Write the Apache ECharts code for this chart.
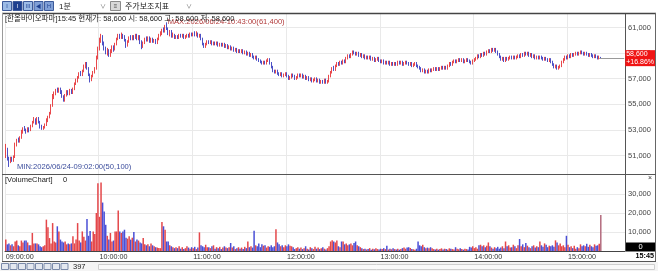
<!DOCTYPE html>
<html><head><meta charset="utf-8">
<script src="https://cdn.jsdelivr.net/npm/echarts@6/dist/echarts.min.js"></script>
<style>html,body{margin:0;padding:0;background:#fff}#c{width:658px;height:271px}</style>
</head><body><div id="c"></div>
<script>
// ---- DATA (prices in hundreds of won) ----
const stockName = '한올바이오파마';
const tradeDate = '2026/06/24';
const nowTime = '15:45';
const quote = [58600, 58600, 58600, 58600]; // 현재가, 시, 고, 저 (current bar)
const changeText = '+16.86%';
const currentVolume = 0;
const sessions = [['09:00', '15:20'], ['15:30', '15:45']];
const hourLabels = ['09:00:00', '10:00:00', '11:00:00', '12:00:00', '13:00:00', '14:00:00', '15:00:00'];
const priceTicks = [51000, 53000, 55000, 57000, 59000, 61000];
const volumeTicks = [10000, 20000, 30000];

const openH = [
510,515,507,505,508,506,509,518,522,521, 524,528,531,530,529,531,530,533,536,538,
535,539,536,533,531,532,534,537,540,543, 549,556,559,561,560,562,560,556,553,557,
560,558,561,559,562,566,568,571,574,573, 576,580,582,578,573,569,572,575,578,586,
593,600,603,598,594,590,592,588,591,595, 593,597,601,604,602,604,603,600,596,599,
602,601,603,602,604,601,603,599,595,598, 601,600,602,599,601,599,600,598,601,604,
606,608,607,611,609,605,607,603,604,602, 603,602,604,603,604,602,603,604,603,605,
604,605,604,606,603,604,601,597,595,597, 599,598,599,597,598,597,598,596,597,596,
597,595,596,594,595,593,594,592,593,591, 592,591,592,590,591,589,590,588,589,587,
586,587,585,584,583,582,583,582,584,585, 582,579,576,575,576,574,573,574,572,573,
574,572,570,571,573,572,570,571,573,572, 573,571,572,570,571,569,570,568,569,570,
568,569,567,568,567,569,567,568,572,575, 578,577,580,582,581,583,582,584,583,586,
588,587,589,591,590,589,590,588,589,587, 588,586,587,586,587,585,586,584,585,586,
584,583,584,582,583,582,583,581,582,581, 582,581,583,582,583,581,582,583,582,581,
582,580,581,582,580,579,578,576,577,575, 576,575,577,576,577,578,577,578,577,578,
579,578,579,578,580,582,581,583,584,583, 584,585,584,585,583,584,585,584,583,582,
584,585,586,588,587,589,588,590,589,591, 592,591,593,592,593,591,589,587,585,586,
584,586,585,586,587,586,587,586,587,588, 587,589,588,590,589,590,588,589,587,588,
586,587,586,587,586,585,586,585,584,585, 583,581,579,580,578,579,580,583,585,587,
586,588,587,589,588,589,590,589,590,591, 590,589,590,589,588,589,588,587,588,587,
586,586];
const closeH = [
515,507,505,508,506,509,518,522,521,524, 528,531,530,529,531,530,533,536,538,535,
539,536,533,531,532,534,537,540,543,549, 556,559,561,560,562,560,556,553,557,560,
558,561,559,562,566,568,571,574,573,576, 580,582,578,573,569,572,575,578,586,593,
600,603,598,594,590,592,588,591,595,593, 597,601,604,602,604,603,600,596,599,602,
601,603,602,604,601,603,599,595,598,601, 600,602,599,601,599,600,598,601,604,606,
608,607,611,609,605,607,603,604,602,603, 602,604,603,604,602,603,604,603,605,604,
605,604,606,603,604,601,597,595,597,599, 598,599,597,598,597,598,596,597,596,597,
595,596,594,595,593,594,592,593,591,592, 591,592,590,591,589,590,588,589,587,586,
587,585,584,583,582,583,582,584,585,582, 579,576,575,576,574,573,574,572,573,574,
572,570,571,573,572,570,571,573,572,573, 571,572,570,571,569,570,568,569,570,568,
569,567,568,567,569,567,568,572,575,578, 577,580,582,581,583,582,584,583,586,588,
587,589,591,590,589,590,588,589,587,588, 586,587,586,587,585,586,584,585,586,584,
583,584,582,583,582,583,581,582,581,582, 581,583,582,583,581,582,583,582,581,582,
580,581,582,580,579,578,576,577,575,576, 575,577,576,577,578,577,578,577,578,579,
578,579,578,580,582,581,583,584,583,584, 585,584,585,583,584,585,584,583,582,584,
585,586,588,587,589,588,590,589,591,592, 591,593,592,593,591,589,587,585,586,584,
586,585,586,587,586,587,586,587,588,587, 589,588,590,589,590,588,589,587,588,586,
587,586,587,586,585,586,585,584,585,583, 581,579,580,578,579,580,583,585,587,586,
588,587,589,588,589,590,589,590,591,590, 589,590,589,588,589,588,587,588,587,586,
587,586];
const highH = [
519,516,509,509,509,510,520,523,524,525, 530,532,533,531,532,532,534,537,540,539,
540,540,537,534,533,535,539,541,544,550, 558,560,562,563,563,563,561,557,558,561,
561,562,562,563,567,570,572,575,576,577, 581,583,583,579,574,573,576,579,588,595,
602,605,604,599,595,594,593,593,596,596, 598,602,605,605,606,605,604,601,600,603,
604,604,604,605,605,604,604,600,599,602, 603,603,603,602,602,601,601,602,605,607,
609,610,612,614,610,608,608,606,605,604, 604,605,605,605,605,604,605,605,606,606,
606,607,607,606,605,605,602,598,598,600, 600,600,600,599,599,599,599,598,598,598,
598,597,597,596,596,595,595,594,594,593, 593,593,593,592,592,591,591,590,590,588,
588,588,586,585,584,584,584,585,586,586, 583,580,577,577,577,575,575,575,574,575,
575,573,572,574,574,573,572,574,574,574, 574,573,573,572,572,571,571,570,571,571,
570,570,569,569,570,570,569,573,576,579, 580,581,583,583,584,584,585,585,587,589,
589,590,592,592,591,591,591,590,590,589, 589,588,588,588,588,587,587,586,587,587,
585,585,585,584,584,584,584,583,583,583, 583,584,584,584,584,583,584,584,583,583,
583,582,583,583,581,580,579,578,578,577, 577,578,578,578,579,579,579,579,579,580,
580,580,580,581,583,583,584,585,585,585, 586,586,586,586,585,586,586,585,584,585,
586,587,589,589,590,590,591,591,592,593, 593,594,594,594,594,592,590,588,587,587,
587,587,587,588,588,588,588,588,589,589, 590,590,591,591,591,591,590,590,589,589,
588,588,588,588,587,587,587,586,586,586, 584,582,581,581,580,581,584,586,588,588,
589,589,590,590,590,591,591,591,592,592, 591,591,591,590,590,590,589,589,589,588,
588,587];
const lowH = [
508,506,501,504,505,505,508,517,520,520, 523,527,529,527,528,528,529,532,535,534,
534,535,531,530,530,531,533,536,539,542, 548,554,557,559,559,558,555,552,552,556,
557,557,558,558,561,565,567,570,572,572, 575,578,577,572,567,568,571,574,577,585,
592,598,596,592,589,588,587,587,590,591, 592,596,600,601,601,601,599,594,595,598,
600,600,600,601,600,600,597,593,594,597, 599,599,598,598,598,598,597,597,600,603,
604,606,606,608,604,603,602,602,601,601, 601,601,602,602,601,601,602,602,602,603,
603,603,603,602,602,600,596,594,594,596, 597,597,596,596,596,596,595,595,595,595,
594,594,593,593,592,592,591,591,590,590, 590,590,589,589,588,588,587,587,586,585,
585,584,583,582,581,581,581,581,583,581, 578,575,574,574,573,572,572,571,571,572,
571,569,569,570,571,569,569,570,571,571, 570,570,569,569,568,568,567,567,568,567,
567,566,566,566,566,566,566,567,571,574, 576,576,579,580,580,581,581,582,582,585,
586,586,588,589,588,588,587,587,586,586, 585,585,585,585,584,584,583,583,584,583,
582,582,581,581,581,581,580,580,580,580, 580,580,581,581,580,580,581,581,580,580,
579,579,580,579,578,577,575,575,574,574, 574,574,575,575,576,576,576,576,576,577,
577,577,577,577,579,580,580,582,582,582, 583,583,583,582,582,583,583,582,581,581,
583,584,585,586,586,587,587,588,588,590, 590,590,591,591,590,588,586,584,584,583,
583,584,584,585,585,585,585,585,586,586, 586,587,587,588,588,587,587,586,586,585,
585,585,585,585,584,584,584,583,583,582, 580,578,578,577,577,578,579,582,584,585,
585,586,586,587,587,588,588,588,589,589, 588,588,588,587,587,587,586,586,586,585,
585,586];
const volume = [
6000,3500,4000,3000,3500,2500,5000,5500,3000,2500, 5500,4500,5500,5500,4500,3000,3000,9500,4000,4000,
4000,3500,2500,2000,2500,3000,16500,12500,6800,4000, 14700,5000,4500,13000,10300,6000,5000,4500,5000,3500,
4000,3500,4000,7700,4000,6000,14700,5500,4500,10300, 7500,5500,16800,8000,10500,5000,10300,9000,20000,35700,
18000,36000,25500,20800,13800,8000,6000,9500,5000,5500, 10300,10300,21300,10300,9500,10300,11200,7000,6500,7700,
6000,7000,10000,5000,6000,5500,4500,4000,6800,3500, 3000,3500,2500,4000,3000,2500,2000,1800,1600,1500,
15200,13000,11200,5000,5000,3000,2500,2000,1500,2000, 1500,2500,1200,2000,1000,1500,2500,1800,1200,2000,
1500,2200,1000,1800,9800,3000,2500,2000,3300,2000, 2000,1500,2500,3000,1200,2000,1500,2200,1000,1800,
2500,1800,1500,2000,4200,1800,2500,1000,1500,2000, 1200,1800,1000,2200,1500,5000,2000,2500,1800,10700,
3000,2500,4000,2000,3500,2800,3000,1800,2500,2200, 3000,2000,2500,11500,4500,3500,2500,3000,2000,3000,
2500,3500,2800,2500,2000,1000,1500,2000,1200,1800, 1000,1500,2500,1200,800,2000,1500,1000,2200,1200,
1800,1000,1500,2000,1200,800,1500,2500,5000,5600, 5000,4500,5500,2500,2000,5000,5000,3500,4000,3000,
3500,4000,3000,4200,5000,3000,2500,2000,1500,1000, 1200,800,1000,1500,700,1200,900,1500,1000,800,
1200,1000,1500,1000,2800,800,1200,900,1500,1000, 800,1200,700,1000,1500,1800,1200,1800,2000,1600,
1000,900,700,1200,5000,3000,2500,3300,2000,1500, 1800,1400,2000,1500,1000,800,1200,700,1000,1400,
800,1200,1000,700,1400,1200,1000,800,2000,1200, 900,1400,1000,700,1200,1000,800,2200,1800,2500,
1500,2000,1200,3000,3300,2500,3000,2000,2800,4500, 2500,1800,1200,2000,1500,2200,1200,1800,2500,1500,
5000,2500,3000,1800,2000,3300,2500,1500,3000,6300, 2500,3500,2000,4200,2800,2000,1500,2500,3000,1800,
2500,2000,5000,3000,2200,4000,3300,2000,2800,2500, 3000,2200,5600,4500,3000,4000,2500,3000,2000,8000,
3300,2000,2500,1500,2800,1200,2000,1500,3500,2500, 3000,2500,3800,2200,3300,2500,2000,3500,2800,3000,
3800,19000,0,0,0,0,0,0,0,0,0,0,0,0,0,0,0];

// ---- build ----
const UNIT = 100;
const pad = n => String(n).padStart(2, '0');
const categories = [];
for (const [a, b] of sessions) {
  let [h, m] = a.split(':').map(Number);
  const [h2, m2] = b.split(':').map(Number);
  while (h * 60 + m <= h2 * 60 + m2) {
    categories.push(pad(h) + ':' + pad(m) + ':00');
    m++; if (m === 60) { m = 0; h++; }
  }
}
const fmt = v => v.toLocaleString('en-US');
const candles = categories.map((c, i) => i < closeH.length
  ? [openH[i] * UNIT, closeH[i] * UNIT, lowH[i] * UNIT, highH[i] * UNIT] : '-');
let maxIdx = 0, minIdx = 0;
highH.forEach((v, i) => { if (v > highH[maxIdx]) maxIdx = i; });
lowH.forEach((v, i) => { if (v < lowH[minIdx]) minIdx = i; });
const lastIdx = closeH.length - 1;
const lastPrice = closeH[lastIdx] * UNIT;

const UP = '#e3191e', DOWN = '#1f24b8', FLAT = '#b36b7e';
const VUP = '#e4474a', VDOWN = '#4a4fd6';
const volColor = i => i >= closeH.length ? FLAT :
  (closeH[i] > openH[i] ? VUP : closeH[i] < openH[i] ? VDOWN : FLAT);

const FONT = 'Liberation Sans, Noto Sans CJK KR, sans-serif';
const isHour = (idx, val) => hourLabels.indexOf(val) >= 0;
const GRID = '#e9e9e9';

const chart = echarts.init(document.getElementById('c'), null, {renderer: 'canvas'});

const T = (x, y, text, o) => Object.assign({type: 'text', x, y, z: 110,
  style: Object.assign({text, fill: '#222', fontSize: 8, fontFamily: FONT,
    textAlign: 'left', textVerticalAlign: 'middle', verticalAlign: 'middle'}, (o || {}).style || {})},
  o ? {scaleX: o.scaleX || 1} : {});
const L = (x1, y1, x2, y2, c, w) => ({type: 'line', z: 100, silent: true,
  shape: {x1, y1, x2, y2}, style: {stroke: c, lineWidth: w || 1}});
const R = (x, y, w, h, fill, stroke) => ({type: 'rect', z: 100, silent: true,
  shape: {x, y, width: w, height: h}, style: {fill, stroke: stroke || null, lineWidth: 1}});

const btnElems = [];
const btnFill = ['#9cbbe6', '#1d3f8f', '#9cbbe6', '#7f9fd6', '#7f9fd6'];
const btnGlyph = ['I', 'I', 'III', '◀', 'H'];
for (let k = 0; k < 5; k++) {
  btnElems.push(R(2.5 + k * 10.5, 1.5, 9, 9, btnFill[k], '#3c5a9a'));
  btnElems.push(T(7 + k * 10.5, 6.2, btnGlyph[k], {style: {fontSize: 5.5, textAlign: 'center',
    fill: k === 1 ? '#fff' : '#1d3f8f'}}));
}

const option = {
  animation: false,
  backgroundColor: '#fff',
  grid: [
    {left: 5, width: 620, top: 14, height: 160},
    {left: 5, width: 620, top: 175, height: 76}
  ],
  xAxis: [
    {type: 'category', gridIndex: 0, data: categories, boundaryGap: true,
     axisLine: {show: false}, axisTick: {show: false}, axisLabel: {show: false},
     splitLine: {show: true, interval: isHour, lineStyle: {color: GRID}}},
    {type: 'category', gridIndex: 1, data: categories, boundaryGap: true,
     axisLine: {show: true, lineStyle: {color: '#444'}}, axisTick: {show: false},
     axisLabel: {show: true, interval: isHour, align: 'left', margin: 2, fontSize: 7.2,
       color: '#333', fontFamily: FONT},
     splitLine: {show: true, interval: isHour, lineStyle: {color: GRID}}}
  ],
  yAxis: [
    {type: 'value', gridIndex: 0, position: 'right', min: 49550, max: 62050, scale: true,
     axisLine: {show: true, lineStyle: {color: '#555'}},
     axisTick: {show: false, customValues: priceTicks},
     axisLabel: {show: true, customValues: priceTicks, margin: 3, fontSize: 7.5,
       color: '#444', fontFamily: FONT, formatter: v => fmt(v)},
     splitLine: {show: true, lineStyle: {color: GRID}}},
    {type: 'value', gridIndex: 1, position: 'right', min: 0, max: 40000,
     axisLine: {show: true, lineStyle: {color: '#555'}},
     axisTick: {show: false, customValues: volumeTicks},
     axisLabel: {show: true, customValues: volumeTicks, margin: 3, fontSize: 7.5,
       color: '#444', fontFamily: FONT, formatter: v => fmt(v)},
     splitLine: {show: true, lineStyle: {color: GRID}}}
  ],
  series: [
    {type: 'candlestick', xAxisIndex: 0, yAxisIndex: 0, data: candles, barWidth: 1,
     itemStyle: {color: UP, color0: DOWN, borderColor: UP, borderColor0: DOWN, borderWidth: 0.8},
     markPoint: {silent: true, symbol: 'circle', symbolSize: 0.1,
       data: [
         {coord: [categories[maxIdx], highH[maxIdx] * UNIT],
          label: {show: true, position: 'right', distance: 1, fontSize: 7.6, fontFamily: FONT,
            color: '#b23c3c',
            formatter: 'MAX:' + tradeDate + '-' + categories[maxIdx] + '(' + fmt(highH[maxIdx] * UNIT) + ')'}},
         {coord: [categories[minIdx], lowH[minIdx] * UNIT],
          label: {show: true, position: 'right', distance: 8, fontSize: 7.6, fontFamily: FONT,
            color: '#3b4c9c',
            formatter: 'MIN:' + tradeDate + '-' + categories[minIdx] + '(' + fmt(lowH[minIdx] * UNIT) + ')'}}
       ]},
     markLine: {silent: true, symbol: ['none', 'none'],
       lineStyle: {color: '#9a9a9a', width: 1, type: 'solid'},
       label: {show: true, position: 'end', distance: 1, formatter: fmt(lastPrice) + '\n' + changeText,
         color: '#fff', backgroundColor: '#f01414', padding: [1, 1, 0, 1], fontSize: 7,
         lineHeight: 7.5, fontFamily: FONT, align: 'left'},
       data: [[{coord: [categories[lastIdx - 1], lastPrice]},
               {coord: [categories[categories.length - 1], lastPrice]}]]}},
    {type: 'bar', xAxisIndex: 1, yAxisIndex: 1, data: volume, barWidth: 1.5,
     itemStyle: {color: p => volColor(p.dataIndex)}}
  ],
  graphic: {elements: [
    ...btnElems,
    T(59, 6.3, '1분', {style: {fontSize: 8}}),
    T(100, 6.5, '∨', {style: {fontSize: 6, fill: '#777'}}),
    R(110.5, 1.5, 10, 9, '#d8d8d8', '#8a8a8a'),
    T(115.5, 6.2, '≡', {style: {fontSize: 6, textAlign: 'center', fill: '#444'}}),
    T(125, 6.3, '주가보조지표', {style: {fontSize: 8}}),
    T(186, 6.5, '∨', {style: {fontSize: 6, fill: '#777'}}),
    L(2, 13.5, 656, 13.5, '#444', 1.5),
    L(2.5, 13, 2.5, 262, '#9a9a9a', 1),
    L(655.5, 13, 655.5, 262, '#666', 1),
    L(2, 174.5, 656, 174.5, '#555', 1),
    L(2, 261.5, 656, 261.5, '#555', 1),
    T(5, 18.8, '[' + stockName + ']' + nowTime + ' 현재가: ' + fmt(quote[0]) + ' 시: ' + fmt(quote[1]) +
      ' 고: ' + fmt(quote[2]) + ' 저: ' + fmt(quote[3]), {style: {fontSize: 7.5, fill: '#222'}}),
    T(5, 180, '[VolumeChart]', {style: {fontSize: 7.5, fill: '#222'}}),
    T(63, 180, String(currentVolume), {style: {fontSize: 7.5, fill: '#222'}}),
    T(650, 178, '×', {style: {fontSize: 7, textAlign: 'center', fill: '#333'}}),
    R(626, 242.5, 29, 9, '#000'),
    T(640.5, 247.3, String(currentVolume), {style: {fontSize: 7.5, textAlign: 'center', fill: '#fff'}}),
    T(654, 256.5, nowTime, {style: {fontSize: 7.2, textAlign: 'right', fill: '#000', fontWeight: 'bold'}}),
    R(0, 262, 658, 9, '#f4f4f4'),
    ...[0, 1, 2, 3, 4, 5, 6, 7].map(k => R(1.5 + k * 8.5, 263.5, 7, 6, '#e4e8f0', '#7a8aaa')),
    T(73, 267, String(categories.length), {style: {fontSize: 7.5, fill: '#222'}}),
    R(98.5, 264.5, 556, 5, '#fafafa', '#cfcfcf')
  ]}
};
chart.setOption(option);
</script>
</body></html>
